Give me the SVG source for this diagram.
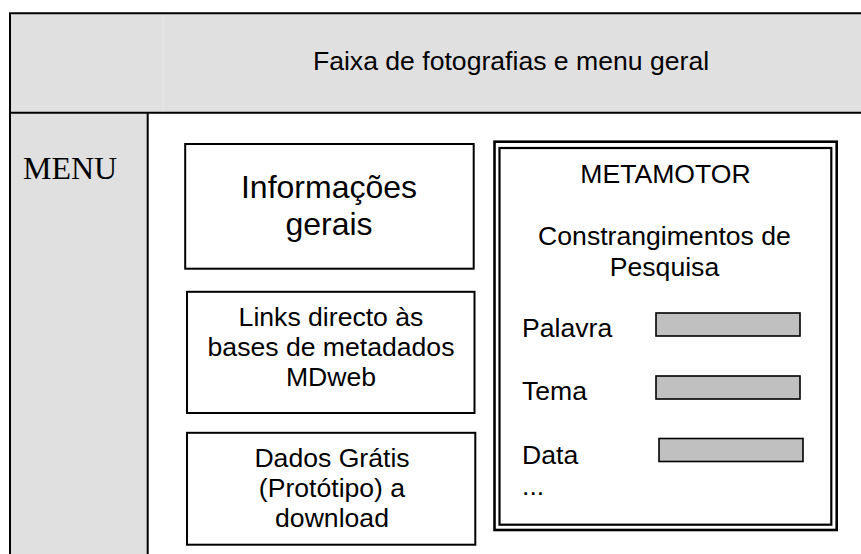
<svg xmlns="http://www.w3.org/2000/svg" width="861" height="554" viewBox="0 0 861 554">
<style>
  .frame { fill: none; stroke: #000; stroke-width: 2; }
  .box { fill: #fff; stroke: #000; stroke-width: 2; }
  .bar { fill: #c0c0c0; stroke: #000; stroke-width: 1.6; }
  .t { font-family: "Liberation Sans", Arial, sans-serif; fill: #000; }
  .c { text-anchor: middle; }
  .s26 { font-size: 26.6px; }
  .s32 { font-size: 32px; }
  .menu { font-family: "Liberation Serif", "Times New Roman", serif; font-size: 32px; fill: #000; }
</style>
<rect width="861" height="554" fill="#fff"/>
<g id="header">
  <rect x="10" y="13.3" width="860" height="99.4" fill="#e0e0e0"/>
  <line x1="163" y1="14" x2="163" y2="112" stroke="#e8e8e8" stroke-width="1"/>
  <text class="t c s26" x="511" y="69.5">Faixa de fotografias e menu geral</text>
</g>
<g id="menu">
  <rect x="10" y="112.7" width="137.7" height="450" fill="#e0e0e0"/>
  <text class="menu" x="23" y="179">MENU</text>
</g>
<g id="frame">
  <path class="frame" d="M 870 13.3 H 10 V 560 M 10 112.7 H 870 M 147.7 112.7 V 560"/>
</g>
<g id="informacoes">
  <rect class="box" x="185.2" y="144" width="288.5" height="124.7"/>
  <text class="t c s32" x="329" y="198">Informações</text>
  <text class="t c s32" x="329" y="235">gerais</text>
</g>
<g id="links">
  <rect class="box" x="187" y="291.8" width="287.5" height="121.2"/>
  <text class="t c s26" x="331" y="326">Links directo às</text>
  <text class="t c s26" x="331" y="356">bases de metadados</text>
  <text class="t c s26" x="331" y="386">MDweb</text>
</g>
<g id="dados">
  <rect class="box" x="187" y="432.8" width="288.3" height="111.9"/>
  <text class="t c s26" x="332" y="467">Dados Grátis</text>
  <text class="t c s26" x="332" y="497">(Protótipo) a</text>
  <text class="t c s26" x="332" y="527">download</text>
</g>
<g id="metamotor">
  <rect x="494.5" y="141.7" width="342.2" height="388.3" fill="#fff" stroke="#000" stroke-width="2.6"/>
  <rect x="499.5" y="148" width="331.8" height="376.7" fill="none" stroke="#000" stroke-width="2.2"/>
  <text class="t c s26" x="665.5" y="183">METAMOTOR</text>
  <text class="t c s26" x="664.5" y="245">Constrangimentos de</text>
  <text class="t c s26" x="664.5" y="276">Pesquisa</text>
  <text class="t s26" x="522" y="337">Palavra</text>
  <rect class="bar" x="656" y="313" width="144" height="23"/>
  <text class="t s26" x="522" y="400">Tema</text>
  <rect class="bar" x="656" y="376" width="144" height="23"/>
  <text class="t s26" x="522" y="464">Data</text>
  <rect class="bar" x="659" y="438.5" width="144" height="23"/>
  <text class="t s26" x="522" y="495">...</text>
</g>
<g id="connectors"></g>
</svg>
